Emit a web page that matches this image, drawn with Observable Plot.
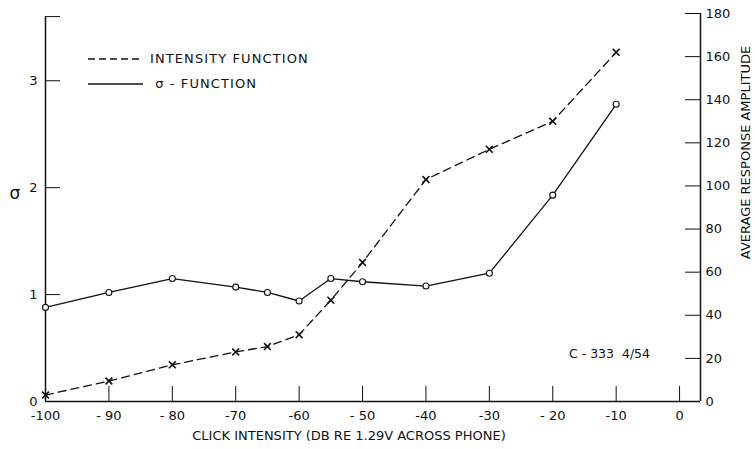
<!DOCTYPE html>
<html>
<head>
<meta charset="utf-8">
<script src="https://cdn.jsdelivr.net/npm/d3@7"></script>
<script src="https://cdn.jsdelivr.net/npm/@observablehq/plot@0.6"></script>
<style>
  html, body { margin: 0; padding: 0; background: #fff; }
  #wrap { position: relative; width: 755px; height: 449px; }
  #legend { position: absolute; left: 88px; top: 46px; font: 13px "DejaVu Sans", sans-serif; color: #111; letter-spacing: 1.1px; }
  #legend .row { display: flex; align-items: center; height: 25px; }
  #legend svg { margin-right: 7px; }
</style>
</head>
<body>
<div id="wrap">
  <div id="chart"></div>
  <div id="legend">
    <div class="row"><svg width="55" height="4"><line x1="0" y1="2" x2="55" y2="2" stroke="#111" stroke-width="1.3" stroke-dasharray="7,4"/></svg><span>INTENSITY FUNCTION</span></div>
    <div class="row"><svg width="55" height="4"><line x1="0" y1="2" x2="55" y2="2" stroke="#111" stroke-width="1.3"/></svg><span>&nbsp;σ - FUNCTION</span></div>
  </div>
</div>
<script>
// ---- data ----
const clickDb   = [-100, -90, -80, -70, -65, -60, -55, -50, -40, -30, -20, -10];
const intensity = [3, 9.5, 17, 23, 25.5, 31, 47, 64.5, 103, 117, 130, 162];   // right axis
const sigma     = [0.88, 1.02, 1.15, 1.07, 1.02, 0.94, 1.15, 1.12, 1.08, 1.20, 1.93, 2.78]; // left axis

const xTicks      = [-100, -90, -80, -70, -60, -50, -40, -30, -20, -10, 0];
const xTickLabels = ["-100", "- 90", "- 80", "-70", "-60", "- 50", "-40", "-30", "- 20", "-10", "0"];
const sigmaTicks  = [1, 2, 3];
const sigmaLabels = ["0", "1", "2", "3"];
const ampTicks    = [20, 40, 60, 80, 100, 120, 140, 160, 180];
const ampLabels   = [0, 20, 40, 60, 80, 100, 120, 140, 160, 180];

// ---- scale relations ----
const xMax = 3.3;          // right frame edge
const ampMax = 180;
const K = 49.6;            // amplitude units per sigma unit
const sigmaTop = 3.6;      // top of left axis line

const iData = clickDb.map((x, i) => ({x, v: intensity[i]}));
const sData = clickDb.map((x, i) => ({x, v: sigma[i] * K}));

const ink = "#111";
const font = "DejaVu Sans, sans-serif";
const tickLenX = 15 / (655 / (xMax + 100));   // ~15px in x units
const tickLenY = 15 / (388 / ampMax);          // ~15px in y units

const chart = Plot.plot({
  width: 755,
  height: 449,
  marginLeft: 45,
  marginRight: 55,
  marginTop: 13,
  marginBottom: 48,
  style: {background: "#fff", color: ink, fontFamily: font},
  x: {domain: [-100, xMax], axis: null},
  y: {domain: [0, ampMax], axis: null},
  marks: [
    // frame lines
    Plot.ruleY([0], {x1: -100, x2: xMax, stroke: ink, strokeWidth: 1.5}),
    Plot.ruleX([-100], {y1: 0, y2: sigmaTop * K, stroke: ink, strokeWidth: 1.5}),
    Plot.ruleX([xMax], {y1: 0, y2: ampMax, stroke: ink, strokeWidth: 1.5}),
    // bottom ticks (inward)
    Plot.ruleX(xTicks.slice(1), {y1: 0, y2: tickLenY, stroke: ink, strokeWidth: 1}),
    // left ticks (inward)
    Plot.ruleY(sigmaTicks.concat([sigmaTop]), {y: d => d * K, x1: -100, x2: -100 + tickLenX, stroke: ink, strokeWidth: 1}),
    // right ticks (inward)
    Plot.ruleY(ampTicks, {y: d => d, x1: xMax - tickLenX, x2: xMax, stroke: ink, strokeWidth: 1}),
    // bottom tick labels
    Plot.text(xTicks, {x: d => d, y: 0, text: (d, i) => xTickLabels[i], dy: 14, fontSize: 13, fill: ink}),
    // left tick labels
    Plot.text(sigmaLabels, {x: -100, y: d => +d * K, text: d => d, dx: -8, textAnchor: "end", fontSize: 13, fill: ink}),
    // right tick labels
    Plot.text(ampLabels, {x: xMax, y: d => d, text: d => String(d), dx: 5, textAnchor: "start", fontSize: 13, fill: ink}),
    // axis titles
    Plot.text(["CLICK INTENSITY (DB RE 1.29V ACROSS PHONE)"], {frameAnchor: "bottom", textAnchor: "middle", dx: -24, dy: 38, fontSize: 13, fill: ink, letterSpacing: "0.65px"}),
    Plot.text(["AVERAGE RESPONSE AMPLITUDE"], {frameAnchor: "right", textAnchor: "middle", rotate: -90, dx: 45, dy: -55, fontSize: 13, fill: ink, letterSpacing: "1.1px"}),
    Plot.text(["σ"], {frameAnchor: "left", dx: -36, dy: -14, fontSize: 17, fill: ink}),
    Plot.text(["C - 333  4/54"], {frameAnchor: "bottom-right", textAnchor: "middle", dx: -91, dy: -44, fontSize: 12.5, fill: ink, letterSpacing: "0.8px"}),
    // series
    Plot.line(iData, {x: "x", y: "v", stroke: ink, strokeWidth: 1.3, strokeDasharray: "8,5"}),
    Plot.line(sData, {x: "x", y: "v", stroke: ink, strokeWidth: 1.3}),
    Plot.dot(iData, {x: "x", y: "v", symbol: "times", r: 3.2, stroke: ink, strokeWidth: 1.6}),
    Plot.dot(sData, {x: "x", y: "v", r: 3, fill: "#fff", stroke: ink, strokeWidth: 1.1})
  ]
});
document.getElementById("chart").appendChild(chart);
</script>
</body>
</html>
